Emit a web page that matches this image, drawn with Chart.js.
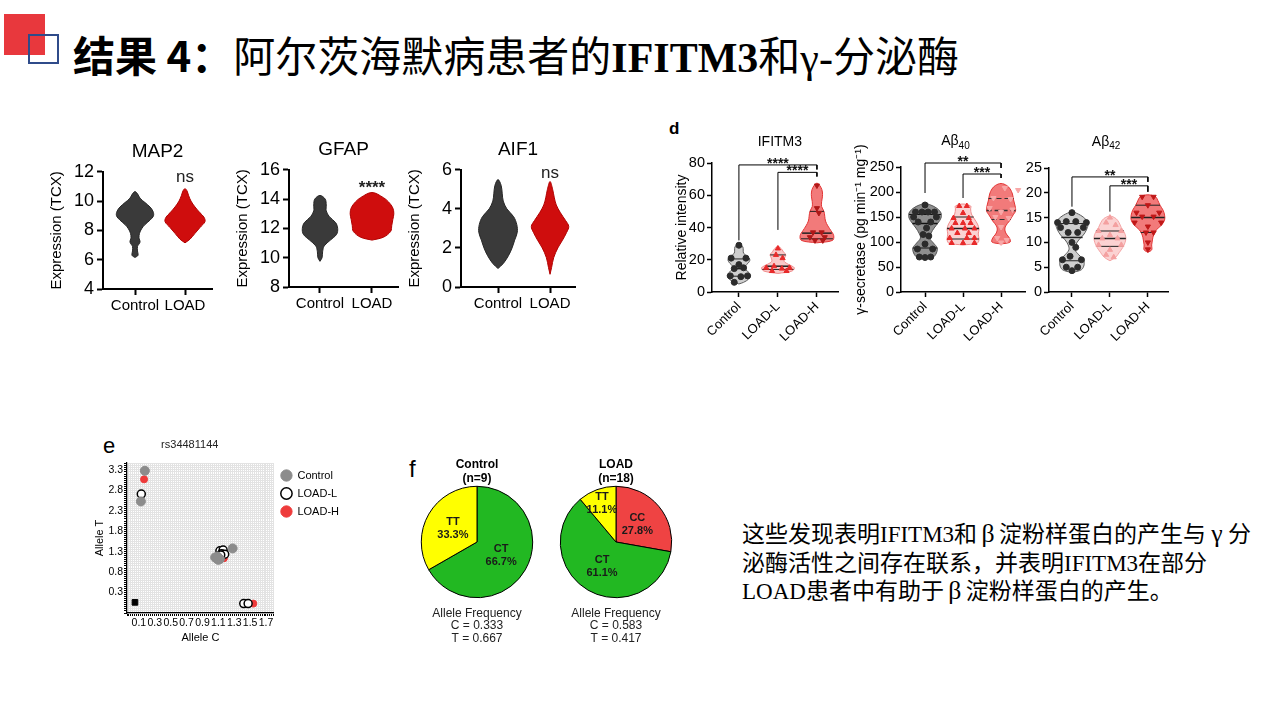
<!DOCTYPE html>
<html>
<head>
<meta charset="utf-8">
<script src="https://cdn.jsdelivr.net/npm/chart.js@4.4.0/dist/chart.umd.min.js"></script>
<style>
html, body { margin: 0; padding: 0; background: #fff; }
#slide { position: relative; width: 1280px; height: 720px; overflow: hidden; background: #fff; }
canvas { position: absolute; }
.redbox { position: absolute; left: 4px; top: 14px; width: 41px; height: 41px; background: #e8383d; }
.bluebox { position: absolute; left: 28px; top: 34px; width: 27px; height: 26px; border: 2px solid #2f4b8a; }
.title { position: absolute; left: 73px; top: 31px; font-family: "Liberation Serif", "Noto Sans CJK SC"; font-size: 42px; line-height: 46px; white-space: nowrap; color: #000; }
.title .hd { font-family: "Noto Sans CJK SC"; font-weight: 700; }
.title .lat { font-weight: 700; }
.panel { position: absolute; font-family: "Liberation Sans", Arial, sans-serif; color: #000; }
.note { position: absolute; left: 742px; top: 521px; font-family: "Liberation Serif", "Noto Sans CJK SC"; font-size: 23px; line-height: 28.5px; white-space: nowrap; color: #000; }
.note .gk { display: inline-block; width: 0.85em; text-align: center; font-size: 1.12em; line-height: 1; }
</style>
</head>
<body>
<div id="slide">
  <div class="redbox"></div>
  <div class="bluebox"></div>
  <div class="title"><span class="hd">结果 4：</span>阿尔茨海默病患者的<span class="lat">IFITM3</span>和γ-分泌酶</div>

  <canvas id="cMap2" width="180" height="190" style="left:40px;top:130px"></canvas>
  <canvas id="cGfap" width="180" height="190" style="left:226px;top:128px"></canvas>
  <canvas id="cAif1" width="185" height="190" style="left:398px;top:128px"></canvas>

  <div class="panel" style="left:669px;top:119px;font-size:17px;font-weight:bold">d</div>
  <canvas id="cIfitm" width="180" height="240" style="left:665px;top:120px"></canvas>
  <canvas id="cAb40" width="180" height="240" style="left:852px;top:120px"></canvas>
  <canvas id="cAb42" width="153" height="240" style="left:1024px;top:120px"></canvas>

  <div class="panel" style="left:103px;top:433px;font-size:22px">e</div>
  <canvas id="cSnp" width="259" height="220" style="left:92px;top:432px"></canvas>

  <div class="panel" style="left:409px;top:455px;font-size:24px">f</div>
  <canvas id="cPieCtrl" width="140" height="195" style="left:407px;top:453px"></canvas>
  <canvas id="cPieLoad" width="140" height="195" style="left:546px;top:453px"></canvas>

  <div class="note">这些发现表明IFITM3和<span class="gk">β</span>淀粉样蛋白的产生与<span class="gk">γ</span>分<br>泌酶活性之间存在联系，并表明IFITM3在部分<br>LOAD患者中有助于<span class="gk">β</span>淀粉样蛋白的产生。</div>
</div>

<script>
// ---- top row: TCX expression violins, [y, half width] ----
const topCats = ['Control', 'LOAD'];
const map2Ctrl = [[6.15,0],[6.3,0.06],[6.6,0.05],[6.9,0.05],[7.2,0.1],[7.5,0.08],[7.8,0.09],[8.1,0.13],[8.4,0.2],[8.7,0.3],[9.0,0.37],[9.3,0.36],[9.6,0.3],[9.9,0.2],[10.2,0.1],[10.5,0.05],[10.65,0]];
const map2Load = [[7.15,0],[7.4,0.1],[7.8,0.2],[8.2,0.3],[8.6,0.4],[8.9,0.38],[9.2,0.3],[9.6,0.2],[10.0,0.12],[10.4,0.07],[10.7,0.04],[10.85,0]];
const gfapCtrl = [[9.75,0],[10.0,0.04],[10.4,0.05],[10.8,0.08],[11.2,0.2],[11.6,0.32],[12.0,0.34],[12.4,0.3],[12.8,0.18],[13.2,0.12],[13.6,0.12],[14.0,0.1],[14.25,0]];
const gfapLoad = [[11.2,0],[11.4,0.22],[11.8,0.36],[12.2,0.38],[12.6,0.4],[13.0,0.42],[13.4,0.4],[13.8,0.32],[14.1,0.22],[14.45,0]];
const aif1Ctrl = [[0.95,0],[1.2,0.1],[1.6,0.2],[2.0,0.27],[2.4,0.32],[2.8,0.37],[3.2,0.36],[3.6,0.3],[4.0,0.17],[4.4,0.1],[4.8,0.08],[5.2,0.06],[5.5,0]];
const aif1Load = [[0.65,0],[1.0,0.03],[1.5,0.07],[2.0,0.15],[2.4,0.24],[2.8,0.32],[3.1,0.36],[3.4,0.3],[3.8,0.2],[4.2,0.12],[4.6,0.08],[5.0,0.05],[5.4,0]];

// ---- panel d ----
const dCats = ['Control', 'LOAD-L', 'LOAD-H'];
const ifitmCtrl = [[5,0],[6,0.12],[8,0.25],[10,0.3],[12,0.26],[14,0.17],[16,0.16],[18,0.24],[20,0.28],[22,0.22],[24,0.12],[26,0.11],[28,0.1],[29.8,0]];
const ifitmLoadL = [[11.5,0],[13,0.36],[15,0.42],[17,0.28],[19,0.16],[21,0.17],[23,0.2],[25,0.14],[27,0.08],[28.3,0]];
const ifitmLoadH = [[30.5,0],[32,0.4],[35,0.43],[38,0.36],[41,0.28],[44,0.22],[47,0.2],[50,0.18],[53,0.12],[56,0.12],[59,0.14],[62,0.14],[65,0.1],[67.5,0]];
const ifitmCtrlPts = [[0,29],[-0.2,21],[0.18,21],[0,17],[-0.12,14.5],[0.12,15],[-0.22,10],[0.05,9.5],[0.22,10],[-0.12,6]];
const ifitmLoadLPts = [[0,27],[-0.05,23],[0.12,21],[-0.3,15],[-0.1,16],[0.3,15],[0.1,14.5],[-0.15,13],[0.22,13]];
const ifitmLoadHPts = [[0,66],[0,52],[0.05,49],[-0.1,37],[0.12,37],[-0.18,34],[0.2,34],[-0.05,32],[0.15,32]];
const ifitmCtrlQ = [[20.5,0.28],[14.5,0.16],[9.8,0.3]];
const ifitmLoadLQ = [[23,0.2],[16,0.3],[14,0.4]];
const ifitmLoadHQ = [[50,0.18],[36.5,0.38],[33,0.41]];
const ifitmBrackets = [[1,3,78.8,32,76],[2,3,74.2,38.5,71.6]];
const ifitmStars = ['****', '****'];

const ab40Ctrl = [[66,0],[70,0.22],[78,0.3],[88,0.32],[98,0.22],[108,0.12],[118,0.16],[128,0.24],[138,0.34],[148,0.42],[158,0.42],[167,0.32],[174,0.15],[177,0]];
const ab40LoadL = [[94,0],[98,0.38],[106,0.42],[116,0.4],[126,0.42],[136,0.38],[146,0.3],[156,0.22],[166,0.2],[172,0.2],[176,0]];
const ab40LoadH = [[96,0],[100,0.24],[108,0.22],[116,0.14],[124,0.1],[132,0.12],[142,0.22],[152,0.3],[162,0.38],[172,0.37],[184,0.33],[196,0.3],[206,0.24],[213,0.15],[217,0]];
const ab40CtrlPts = [[0,174],[-0.25,160],[-0.08,160],[0.08,160],[0.25,160],[-0.3,150],[0.3,150],[-0.18,140],[0.15,140],[0.04,128],[-0.05,115],[0.1,112],[0,96],[-0.2,86],[0.2,86],[-0.15,70],[0,69],[0.15,70]];
const ab40LoadLPts = [[-0.1,172],[0.1,172],[0,158],[-0.25,148],[0.15,148],[-0.2,138],[0,138],[0.2,138],[-0.3,127],[0.05,127],[0.3,127],[-0.15,118],[0.15,118],[-0.35,108],[0.1,108],[0.3,108],[-0.3,98],[0,98],[0.3,98]];
const ab40LoadHPts = [[0.1,208],[0.45,204],[-0.2,188],[0.25,186],[-0.3,168],[0.3,165],[0,160],[-0.15,150],[0.2,148],[0,130],[-0.1,108],[0.15,104],[0,99]];
const ab40CtrlQ = [[155,0.42],[137,0.33],[88,0.32]];
const ab40LoadLQ = [[150,0.28],[127,0.42],[106,0.42]];
const ab40LoadHQ = [[187,0.33],[163,0.38],[145,0.25]];
const ab40Brackets = [[1,3,258,198,248],[2,3,236,188,228]];
const ab40Stars = ['**', '***'];

const ab42Ctrl = [[3.9,0],[4.5,0.25],[5.5,0.32],[6.5,0.3],[7.5,0.18],[8.5,0.08],[9.5,0.1],[10.5,0.18],[11.5,0.3],[12.5,0.38],[13.5,0.42],[14.5,0.38],[15.5,0.22],[16.1,0]];
const ab42LoadL = [[6.3,0],[7,0.15],[8,0.25],[9,0.34],[10,0.4],[11,0.42],[12,0.38],[13,0.3],[14,0.24],[14.8,0.16],[15.3,0]];
const ab42LoadH = [[8,0],[8.5,0.1],[9.5,0.1],[10.5,0.12],[11.5,0.15],[12.5,0.22],[13.5,0.36],[14.5,0.44],[15.5,0.44],[16.5,0.4],[17.5,0.32],[18.5,0.26],[19.2,0.2],[19.6,0]];
const ab42CtrlPts = [[0,16],[-0.38,14],[-0.15,14.2],[0.1,14.2],[0.38,14],[-0.3,13],[0.3,13],[-0.1,12],[0.15,12],[0,10],[0.1,9],[-0.05,7.2],[-0.25,6.5],[0.25,6.5],[-0.15,5],[0.15,5],[0,4.3]];
const ab42LoadLPts = [[0,15],[-0.1,14],[0.15,13.5],[-0.3,12.3],[0.3,12.3],[0,11.5],[-0.2,10.8],[0.2,10.8],[-0.3,9.5],[0.3,9.5],[0,8.5],[-0.1,7.5],[0.1,7]];
const ab42LoadHPts = [[-0.15,19.2],[0.15,19.2],[0,17.5],[-0.3,16],[0.3,16],[-0.15,15.2],[0.15,15.2],[-0.35,14],[0.35,14],[0,13.2],[-0.05,12],[0.15,12],[0,10],[0,8.6]];
const ab42CtrlQ = [[13.8,0.42],[11,0.28],[6.3,0.3]];
const ab42LoadLQ = [[12.3,0.37],[10.8,0.42],[9.2,0.35]];
const ab42LoadHQ = [[17.5,0.32],[15,0.44],[12,0.19]];
const ab42Brackets = [[1,3,23.2,17.2,22.2],[2,3,21.4,16.2,20.2]];
const ab42Stars = ['**', '***'];

// ---- panel e: rs34481144 cluster plot [allele C, allele T] ----
const snpCtrl = [[0.175,3.28],[0.125,2.53],[1.06,1.16],[1.08,1.13],[1.1,1.1],[1.12,1.12],[1.09,1.18],[1.28,1.38]];
const snpLoadL = [[0.13,2.71],[1.12,1.32],[1.16,1.34],[1.14,1.25],[1.18,1.24],[1.13,1.22],[1.42,0.03],[1.475,0.03]];
const snpLoadH = [[0.165,3.07],[1.17,1.14],[1.54,0.03]];
const snpNtc = [[0.05,0.06]];

// ---- panel f: genotype pies ----
const genoCtrl = ['CT', 'TT'];
const genoCtrlPct = [66.7, 33.3];
const genoLoad = ['CC', 'CT', 'TT'];
const genoLoadPct = [27.8, 61.1, 11.1];
const alleleCtrl = [0.333, 0.667];
const alleleLoad = [0.583, 0.417];

Chart.defaults.font.family = '"Liberation Sans", Arial, sans-serif';
Chart.defaults.color = '#000';
Chart.defaults.animation = false;
Chart.defaults.responsive = false;
Chart.defaults.plugins.legend.display = false;
Chart.defaults.plugins.tooltip.enabled = false;

// text at data coordinates (significance marks, titles with subscripts)
const textMarks = {
  id: 'textMarks',
  afterDatasetsDraw(chart, args, opts) {
    const ctx = chart.ctx, xs = chart.scales.x, ys = chart.scales.y;
    (opts.items || []).forEach(it => {
      const px = xs.getPixelForValue(it.x), py = ys.getPixelForValue(it.y) + (it.dy || 0);
      ctx.save();
      ctx.fillStyle = it.color || '#000';
      ctx.textBaseline = it.baseline || 'middle';
      ctx.font = it.font;
      if (it.sub) {
        const w1 = ctx.measureText(it.text).width;
        ctx.font = it.subFont;
        const w2 = ctx.measureText(it.sub).width;
        const x0 = px - (w1 + w2) / 2;
        ctx.textAlign = 'left';
        ctx.font = it.font;
        ctx.fillText(it.text, x0, py);
        ctx.font = it.subFont;
        ctx.fillText(it.sub, x0 + w1, py + 5);
      } else {
        ctx.textAlign = 'center';
        ctx.fillText(it.text, px, py);
      }
      ctx.restore();
    });
  }
};
Chart.register(textMarks);

function violin(center, profile, fill, border) {
  const right = profile.map(([y, w]) => ({x: center + w, y: y}));
  const left = profile.slice(0, -1).reverse().map(([y, w]) => ({x: center - w, y: y}));
  return {
    type: 'line', data: right.concat(left), fill: 'shape',
    backgroundColor: fill, borderColor: border, borderWidth: 1,
    pointRadius: 0, tension: 0.35
  };
}

function bracket(b) {
  return {
    type: 'line',
    data: [{x: b[0], y: b[3]}, {x: b[0], y: b[2]}, {x: b[1], y: b[2]}, {x: b[1], y: b[4]}],
    borderColor: '#000', borderWidth: 1, pointRadius: 0, tension: 0, fill: false, clip: false, order: 0
  };
}

function catAxis(cats, min, max, height, tickFont, rot) {
  return {
    type: 'linear', min: min, max: max,
    afterBuildTicks: s => { s.ticks = cats.map((c, i) => ({value: i + 1})); },
    afterFit: s => { s.height = height; },
    ticks: {callback: v => cats[v - 1], font: {size: tickFont}, padding: 2, autoSkip: false, minRotation: rot, maxRotation: rot},
    grid: {drawOnChartArea: false, tickLength: rot ? 5 : 6, tickWidth: rot ? 1.5 : 2, tickColor: '#000'},
    border: {color: '#000', width: rot ? 1.5 : 2}
  };
}

function topChart(id, title, yMin, yMax, xMin, xMax, ctrl, load, sig, sigY, sigFont) {
  new Chart(document.getElementById(id), {
    type: 'scatter',
    data: {datasets: [
      violin(1, ctrl, '#3a3a3a', '#262626'),
      violin(2, load, '#cf0d0d', '#b00000')
    ]},
    options: {
      layout: {padding: {right: 8}},
      plugins: {
        title: {display: true, text: title, fullSize: false, font: {size: 19, weight: 'normal'}, padding: {top: 10, bottom: 9}},
        textMarks: {items: [{text: sig, x: 2, y: sigY, font: sigFont, color: '#222'}]}
      },
      scales: {
        x: catAxis(topCats, xMin, xMax, 31, 15, 0),
        y: {
          min: yMin, max: yMax,
          afterFit: s => { s.width = 63; },
          ticks: {stepSize: 2, font: {size: 18}, padding: 3},
          grid: {drawOnChartArea: false, tickLength: 6, tickWidth: 2, tickColor: '#000'},
          border: {color: '#000', width: 2},
          title: {display: true, text: 'Expression (TCX)', font: {size: 15}, padding: {top: 8, bottom: 0}}
        }
      }
    }
  });
}

topChart('cMap2', 'MAP2', 4, 12, 0.36, 2.54, map2Ctrl, map2Load, 'ns', 11.65, '17px "Liberation Sans", Arial');
topChart('cGfap', 'GFAP', 8, 16, 0.404, 2.5, gfapCtrl, gfapLoad, '****', 14.75, 'bold 17px "Liberation Sans", Arial');
topChart('cAif1', 'AIF1', 0, 6, 0.288, 2.48, aif1Ctrl, aif1Load, 'ns', 5.8, '17px "Liberation Sans", Arial');

function dChart(id, c) {
  const ds = [];
  c.groups.forEach((g, i) => {
    const cx = i + 1;
    ds.push(Object.assign(violin(cx, g.profile, g.fill, g.border), {order: 4}));
    g.quart.forEach(([y, w], k) => ds.push({
      type: 'line', data: [{x: cx - w, y: y}, {x: cx + w, y: y}],
      borderColor: g.lineColor, borderWidth: k === 1 ? 1.5 : 1, borderDash: g.dash || [],
      pointRadius: 0, order: 3
    }));
    ds.push({
      type: 'scatter', data: g.pts.map(([dx, y]) => ({x: cx + dx, y: y})),
      pointStyle: g.marker, pointRotation: g.rot || 0, pointRadius: 3,
      backgroundColor: g.mark, borderColor: g.mark, order: 2
    });
  });
  c.brackets.forEach(b => ds.push(bracket(b)));
  const items = c.brackets.map((b, i) => ({
    text: c.stars[i], x: (b[0] + b[1]) / 2, y: b[2], baseline: 'alphabetic', dy: 3,
    font: 'bold 14px "Liberation Sans", Arial', color: '#111'
  }));
  items.push({text: c.title, sub: c.sub, x: c.titleX, y: c.titleY,
    font: '14px "Liberation Sans", Arial', subFont: '10px "Liberation Sans", Arial'});
  new Chart(document.getElementById(id), {
    type: 'scatter',
    data: {datasets: ds},
    options: {
      layout: {padding: {top: c.top, right: c.right}},
      plugins: {textMarks: {items: items}},
      scales: {
        x: catAxis(dCats, c.xMin, c.xMax, 68, 13, 45),
        y: {
          min: 0, max: c.yMax,
          afterFit: s => { s.width = c.yWidth; },
          ticks: {stepSize: c.step, font: {size: 14.5}, padding: 2},
          grid: {drawOnChartArea: false, tickLength: 5, tickWidth: 1.5, tickColor: '#000'},
          border: {color: '#000', width: 1.5},
          title: {display: !!c.yTitle, text: c.yTitle, font: {size: 14}, padding: {top: c.yTitlePad, bottom: 0}}
        }
      }
    }
  });
}

dChart('cIfitm', {
  xMin: 0.31, xMax: 3.54, yMax: 80, step: 20, yWidth: 47, top: 43, right: 7,
  yTitle: 'Relative intensity', yTitlePad: 9,
  title: 'IFITM3', sub: '', titleX: 2.05, titleY: 93,
  brackets: ifitmBrackets, stars: ifitmStars,
  groups: [
    {profile: ifitmCtrl, pts: ifitmCtrlPts, quart: ifitmCtrlQ, fill: 'rgba(165,165,165,0.55)', border: '#5a5a5a', lineColor: '#222', marker: 'circle', mark: '#2b2b2b'},
    {profile: ifitmLoadL, pts: ifitmLoadLPts, quart: ifitmLoadLQ, fill: '#f9c8c8', border: '#f08c8c', lineColor: '#222', marker: 'triangle', mark: '#e82a2a'},
    {profile: ifitmLoadH, pts: ifitmLoadHPts, quart: ifitmLoadHQ, fill: '#f27a7a', border: '#e23535', lineColor: '#222', marker: 'triangle', rot: 180, mark: '#b01818'}
  ]
});

dChart('cAb40', {
  xMin: 0.368, xMax: 3.63, yMax: 250, step: 50, yWidth: 49, top: 47, right: 7,
  yTitle: 'γ-secretase (pg min⁻¹ mg⁻¹)', yTitlePad: 1,
  title: 'Aβ', sub: '40', titleX: 1.8, titleY: 302,
  brackets: ab40Brackets, stars: ab40Stars,
  groups: [
    {profile: ab40Ctrl, pts: ab40CtrlPts, quart: ab40CtrlQ, fill: '#8e8e8e', border: '#555', lineColor: '#111', marker: 'circle', mark: '#2b2b2b'},
    {profile: ab40LoadL, pts: ab40LoadLPts, quart: ab40LoadLQ, fill: '#fbd2d2', border: '#f08c8c', lineColor: '#222', marker: 'triangle', mark: '#e82a2a'},
    {profile: ab40LoadH, pts: ab40LoadHPts, quart: ab40LoadHQ, fill: '#f27a7a', border: '#e23535', lineColor: '#333', dash: [5, 3], marker: 'triangle', rot: 180, mark: '#f8a8a8'}
  ]
});

dChart('cAb42', {
  xMin: 0.395, xMax: 3.53, yMax: 25, step: 5, yWidth: 25, top: 48, right: 9,
  yTitle: '', yTitlePad: 0,
  title: 'Aβ', sub: '42', titleX: 1.9, titleY: 30.3,
  brackets: ab42Brackets, stars: ab42Stars,
  groups: [
    {profile: ab42Ctrl, pts: ab42CtrlPts, quart: ab42CtrlQ, fill: 'rgba(165,165,165,0.55)', border: '#5a5a5a', lineColor: '#222', marker: 'circle', mark: '#2b2b2b'},
    {profile: ab42LoadL, pts: ab42LoadLPts, quart: ab42LoadLQ, fill: '#fbd2d2', border: '#f4a4a4', lineColor: '#222', marker: 'triangle', mark: '#f4a0a0'},
    {profile: ab42LoadH, pts: ab42LoadHPts, quart: ab42LoadHQ, fill: '#f27a7a', border: '#e23535', lineColor: '#222', marker: 'triangle', rot: 180, mark: '#c01818'}
  ]
});

// panel e
const toXY = arr => arr.map(([x, y]) => ({x: x, y: y}));
function labelAt(v, start, step) {
  const k = (v - start) / step;
  return (k > -1e-4 && Math.abs(k - Math.round(k)) < 1e-4) ? v.toFixed(1) : '';
}
new Chart(document.getElementById('cSnp'), {
  type: 'scatter',
  data: {datasets: [
    {label: 'Control', data: toXY(snpCtrl), pointRadius: 4.5, backgroundColor: '#8c8c8c', borderColor: '#8c8c8c'},
    {label: 'LOAD-L', data: toXY(snpLoadL), pointRadius: 4, backgroundColor: '#fff', borderColor: '#000', borderWidth: 1.5},
    {label: 'LOAD-H', data: toXY(snpLoadH), pointRadius: 3.5, backgroundColor: '#ee3b3b', borderColor: '#ee3b3b'},
    {label: 'NTC', data: toXY(snpNtc), pointStyle: 'rect', pointRadius: 4, backgroundColor: '#000', borderColor: '#000'}
  ]},
  options: {
    layout: {padding: {top: 31, right: 2}},
    plugins: {
      textMarks: {items: [{text: 'rs34481144', x: 0.74, y: 3.91, font: '11px "Liberation Sans", Arial', color: '#222'}]},
      legend: {display: true, position: 'right', align: 'start', fullSize: false, maxWidth: 120,
        labels: {usePointStyle: true, boxHeight: 8, padding: 7, font: {size: 11}, filter: it => it.text !== 'NTC'}}
    },
    scales: {
      x: {
        min: -0.05, max: 1.8,
        afterFit: s => { s.height = 39; },
        ticks: {stepSize: 0.025, autoSkip: false, maxRotation: 0, font: {size: 10.5}, padding: 1, callback: v => labelAt(v, 0.1, 0.2)},
        grid: {color: '#e3e3e3', tickColor: '#000', tickLength: 3},
        border: {color: '#000', width: 1.2},
        title: {display: true, text: 'Allele C', font: {size: 11}, padding: {top: 2, bottom: 7}}
      },
      y: {
        min: -0.2, max: 3.47,
        afterFit: s => { s.width = 35; },
        ticks: {stepSize: 0.05, autoSkip: false, font: {size: 10.5}, padding: 1, callback: v => labelAt(v, 0.3, 0.5)},
        grid: {color: '#e3e3e3', tickColor: '#000', tickLength: 3},
        border: {color: '#000', width: 1.2},
        title: {display: true, text: 'Allele T', font: {size: 11}, padding: {top: 1, bottom: 0}}
      }
    }
  }
});

// panel f
const sliceLabels = {
  id: 'sliceLabels',
  afterDatasetsDraw(chart) {
    const ctx = chart.ctx, ds = chart.data.datasets[0];
    chart.getDatasetMeta(0).data.forEach((arc, i) => {
      const p = arc.getProps(['x', 'y', 'startAngle', 'endAngle', 'outerRadius']);
      const mid = (p.startAngle + p.endAngle) / 2;
      const r = p.outerRadius * ((p.endAngle - p.startAngle) < 1 ? 0.74 : 0.5);
      const cx = p.x + Math.cos(mid) * r, cy = p.y + Math.sin(mid) * r;
      ctx.save();
      ctx.font = 'bold 11px "Liberation Sans", Arial';
      ctx.fillStyle = '#1a1a1a';
      ctx.textAlign = 'center';
      ctx.textBaseline = 'middle';
      ctx.fillText(chart.data.labels[i], cx, cy - 6.5);
      ctx.fillText(ds.data[i].toFixed(1) + '%', cx, cy + 6.5);
      ctx.restore();
    });
  }
};
const genoColor = {CC: '#ef4343', CT: '#22b822', TT: '#ffff00'};
function pie(id, title, labels, pct, allele) {
  new Chart(document.getElementById(id), {
    type: 'pie',
    data: {labels: labels, datasets: [{data: pct, backgroundColor: labels.map(l => genoColor[l]), borderColor: '#000', borderWidth: 1}]},
    options: {
      plugins: {
        title: {display: true, text: title, font: {size: 12, weight: 'bold'}, padding: {top: 4, bottom: 0}},
        subtitle: {display: true, position: 'bottom', color: '#222',
          text: ['Allele Frequency', 'C = ' + allele[0].toFixed(3), 'T = ' + allele[1].toFixed(3)],
          font: {size: 12, lineHeight: 1.05}, padding: {top: 9, bottom: 3}}
      }
    },
    plugins: [sliceLabels]
  });
}
pie('cPieCtrl', ['Control', '(n=9)'], genoCtrl, genoCtrlPct, alleleCtrl);
pie('cPieLoad', ['LOAD', '(n=18)'], genoLoad, genoLoadPct, alleleLoad);
</script>
</body>
</html>
